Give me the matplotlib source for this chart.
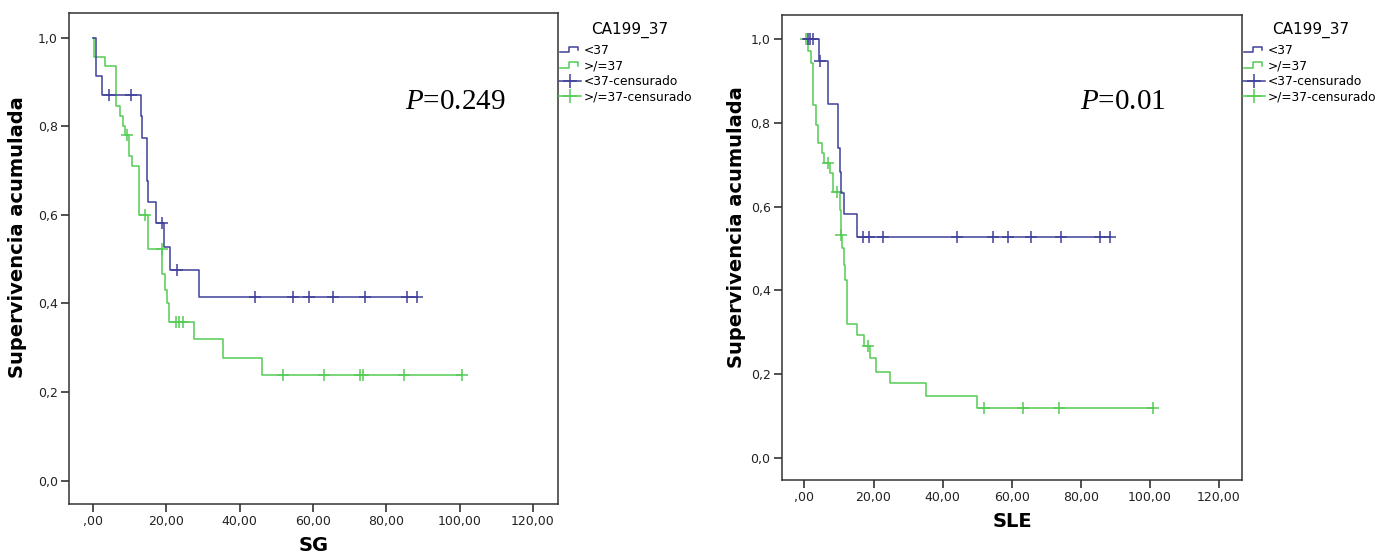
import numpy as np
import matplotlib
matplotlib.use("Agg")
import matplotlib.pyplot as plt
from matplotlib.lines import Line2D
from matplotlib.legend_handler import HandlerBase

plt.rcParams['font.family'] = 'DejaVu Sans'
plt.rcParams['mathtext.fontset'] = 'custom'
plt.rcParams['mathtext.rm'] = 'Liberation Serif'
plt.rcParams['mathtext.it'] = 'Liberation Serif:italic'

# ---- data ----
# SG panel
sg_lo_t = [0, 0.8, 2.3, 13.0, 13.4, 14.6, 15.0, 17.1, 19.3, 21.1, 29.0, 88.4]
sg_lo_s = [1.0, 0.913, 0.870, 0.822, 0.774, 0.677, 0.628, 0.582, 0.528, 0.476, 0.415, 0.415]
sg_lo_cens = [4.4, 10.3, 18.9, 22.8, 44.2, 54.5, 58.9, 65.6, 74.3, 85.6, 88.4]

sg_hi_t = [0, 0.3, 3.2, 6.2, 7.3, 8.2, 8.8, 9.8, 10.7, 12.6, 15.0, 18.9, 19.6, 20.2, 20.8,
           27.5, 35.5, 46.0, 100.8]
sg_hi_s = [1.0, 0.957, 0.935, 0.846, 0.822, 0.801, 0.780, 0.733, 0.711, 0.600, 0.522, 0.467,
           0.430, 0.400, 0.359, 0.319, 0.278, 0.239, 0.239]
sg_hi_cens = [9.1, 14.1, 18.7, 22.6, 23.5, 24.4, 51.9, 63.1, 72.7, 73.6, 84.9, 100.8]

# SLE panel
sle_lo_t = [0, 4.2, 6.7, 9.7, 10.2, 10.5, 11.5, 15.1, 88.4]
sle_lo_s = [1.0, 0.948, 0.845, 0.739, 0.683, 0.633, 0.582, 0.528, 0.528]
sle_lo_cens = [1.05, 1.7, 2.5, 4.4, 17.0, 18.7, 22.8, 44.2, 54.5, 58.9, 65.6, 74.3, 85.6, 88.4]

sle_hi_t = [0, 1.05, 2.0, 2.5, 3.3, 3.9, 5.2, 5.7, 7.3, 8.3, 10.2, 10.6, 11.0, 11.3, 11.7,
            12.2, 15.1, 17.2, 19.1, 20.6, 24.7, 35.1, 49.9, 100.9]
sle_hi_s = [1.0, 0.971, 0.942, 0.842, 0.795, 0.751, 0.727, 0.705, 0.679, 0.634, 0.592, 0.532,
            0.500, 0.460, 0.425, 0.321, 0.294, 0.268, 0.238, 0.206, 0.180, 0.149, 0.119, 0.119]
sle_hi_cens = [0.3, 6.7, 9.5, 10.7, 18.4, 52.0, 63.2, 73.7, 100.9]

x_ticks = [0, 20, 40, 60, 80, 100, 120]
x_labels = [',00', '20,00', '40,00', '60,00', '80,00', '100,00', '120,00']
y_ticks = [0.0, 0.2, 0.4, 0.6, 0.8, 1.0]
y_labels = ['0,0', '0,2', '0,4', '0,6', '0,8', '1,0']
legend_title = 'CA199_37'
legend_labels = ['<37', '>/=37', '<37-censurado', '>/=37-censurado']

BLUE = '#40409a'
GREEN = '#55cc55'


def surv_at(t, s, x):
    # value of the step curve at time x
    idx = np.searchsorted(t, x, side='right') - 1
    return np.array(s)[idx]


class StepHandler(HandlerBase):
    def create_artists(self, legend, orig_handle, xdescent, ydescent,
                       width, height, fontsize, trans):
        xs = np.array([0.05, 0.45, 0.45, 0.85, 0.85]) * width - xdescent
        ys = np.array([0.2, 0.2, 0.85, 0.85, 0.45]) * height - ydescent
        ln = Line2D(xs, ys, color=orig_handle.get_color(), lw=orig_handle.get_linewidth())
        ln.set_transform(trans)
        return [ln]


fig = plt.figure(figsize=(13.79, 5.57), dpi=100)
W, H = 1379, 557

panels = [
    dict(box=(69, 12.7, 557.7, 504.3), ylim=(-0.053, 1.056), xlabel='SG',
         lo=(sg_lo_t, sg_lo_s, sg_lo_cens), hi=(sg_hi_t, sg_hi_s, sg_hi_cens),
         ptxt=r'$P$=0.249', ppos=(85.0, 0.855), ylab_x=-0.085, xlab_y=-0.064,
         leg=(559, 44), title_x=629.5),
    dict(box=(781.7, 15, 1242.3, 480.3), ylim=(-0.053, 1.057), xlabel='SLE',
         lo=(sle_lo_t, sle_lo_s, sle_lo_cens), hi=(sle_hi_t, sle_hi_s, sle_hi_cens),
         ptxt=r'$P$=0.01', ppos=(79.8, 0.85), ylab_x=-0.078, xlab_y=-0.068,
         leg=(1243, 44), title_x=1310.5),
]

for p in panels:
    l, t, r, b = p['box']
    ax = fig.add_axes([l / W, 1 - b / H, (r - l) / W, (b - t) / H])
    ax.set_xlim(-6.6, 126.8)
    ax.set_ylim(*p['ylim'])

    for (tt, ss, cc), col in [(p['hi'], GREEN), (p['lo'], BLUE)]:
        ax.step(tt, ss, where='post', color=col, lw=1.1)
        ax.plot(cc, surv_at(tt, ss, cc), ls='none', marker='+', ms=8, mew=1.1, color=col)

    ax.set_xticks(x_ticks)
    ax.set_xticklabels(x_labels)
    ax.set_yticks(y_ticks)
    ax.set_yticklabels(y_labels)
    ax.tick_params(axis='both', direction='out', length=5.5, width=1.1,
                   labelsize=9, colors='#222222', pad=2.5)
    for sp in ax.spines.values():
        sp.set_linewidth(1.1)
        sp.set_color('#333333')

    ax.set_xlabel(p['xlabel'], fontsize=14, fontweight='bold')
    ax.xaxis.set_label_coords(0.5, p['xlab_y'])
    ax.set_ylabel('Supervivencia acumulada', fontsize=14, fontweight='bold')
    ax.yaxis.set_label_coords(p['ylab_x'], 0.544)

    ax.text(p['ppos'][0], p['ppos'][1], p['ptxt'], fontsize=21,
            family='Liberation Serif', ha='left', va='center')

    fig.text(p['title_x'] / W, 1 - 30 / H, legend_title, fontsize=11,
             ha='center', va='center')

    h1 = Line2D([], [], color=BLUE, lw=1.1)
    h2 = Line2D([], [], color=GREEN, lw=1.1)
    h3 = Line2D([0], [0], color=BLUE, lw=1.1, marker='+', ms=10, mew=1.1)
    h4 = Line2D([0], [0], color=GREEN, lw=1.1, marker='+', ms=10, mew=1.1)
    lx, ly = p['leg']
    fig.legend([h1, h2, h3, h4], legend_labels, loc='upper left',
               bbox_to_anchor=(lx / W, 1 - ly / H), frameon=False,
               fontsize=8.8, borderpad=0, borderaxespad=0,
               labelspacing=0.2, handlelength=1.8, handletextpad=0.25,
               numpoints=1, handler_map={h1: StepHandler(), h2: StepHandler()})

fig.savefig('out.png', dpi=100)
